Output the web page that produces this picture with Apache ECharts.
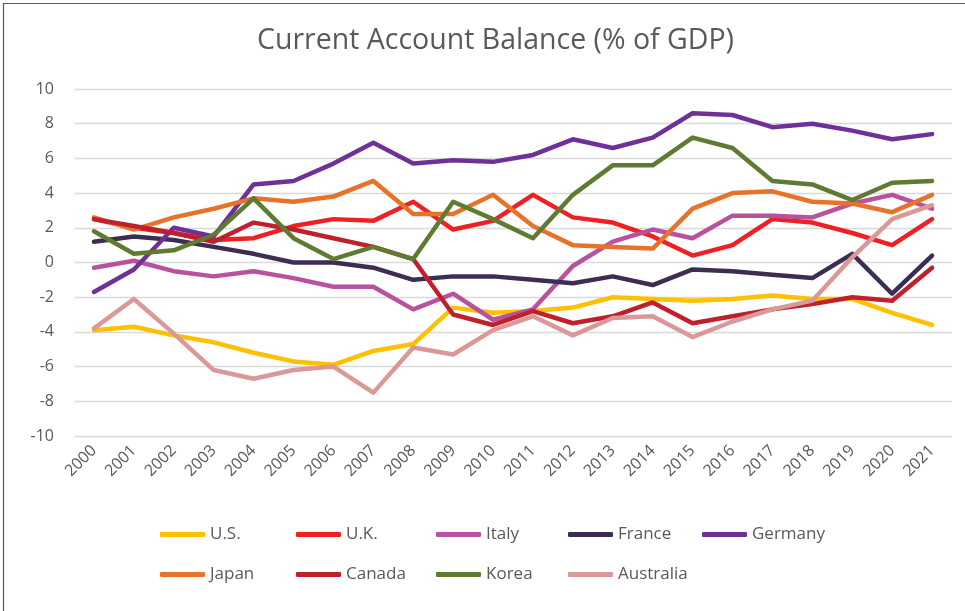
<!DOCTYPE html>
<html>
<head>
<meta charset="utf-8">
<script src="https://cdn.jsdelivr.net/npm/echarts@6/dist/echarts.min.js"></script>
<style>
html,body{margin:0;padding:0;background:#fff;}
#chart{width:965px;height:611px;}
</style>
</head>
<body>
<div id="chart"></div>
<script>
const years = ['2000','2001','2002','2003','2004','2005','2006','2007','2008','2009','2010','2011','2012','2013','2014','2015','2016','2017','2018','2019','2020','2021'];
const yTicks = [-10, -8, -6, -4, -2, 0, 2, 4, 6, 8, 10];

const us        = [-3.9, -3.7, -4.2, -4.6, -5.2, -5.7, -5.9, -5.1, -4.7, -2.6, -2.9, -2.8, -2.6, -2.0, -2.1, -2.2, -2.1, -1.9, -2.1, -2.1, -2.9, -3.6];
const uk        = [2.5, 2.0, 1.7, 1.3, 1.4, 2.1, 2.5, 2.4, 3.5, 1.9, 2.4, 3.9, 2.6, 2.3, 1.5, 0.4, 1.0, 2.5, 2.3, 1.7, 1.0, 2.5];
const italy     = [-0.3, 0.1, -0.5, -0.8, -0.5, -0.9, -1.4, -1.4, -2.7, -1.8, -3.3, -2.7, -0.2, 1.2, 1.9, 1.4, 2.7, 2.7, 2.6, 3.4, 3.9, 3.1];
const france    = [1.2, 1.5, 1.3, 0.9, 0.5, 0.0, 0.0, -0.3, -1.0, -0.8, -0.8, -1.0, -1.2, -0.8, -1.3, -0.4, -0.5, -0.7, -0.9, 0.5, -1.8, 0.4];
const germany   = [-1.7, -0.4, 2.0, 1.5, 4.5, 4.7, 5.7, 6.9, 5.7, 5.9, 5.8, 6.2, 7.1, 6.6, 7.2, 8.6, 8.5, 7.8, 8.0, 7.6, 7.1, 7.4];
const japan     = [2.6, 1.9, 2.6, 3.1, 3.7, 3.5, 3.8, 4.7, 2.8, 2.8, 3.9, 2.1, 1.0, 0.9, 0.8, 3.1, 4.0, 4.1, 3.5, 3.4, 2.9, 3.9];
const canada    = [2.5, 2.1, 1.7, 1.2, 2.3, 1.9, 1.4, 0.9, 0.2, -3.0, -3.6, -2.8, -3.5, -3.1, -2.3, -3.5, -3.1, -2.7, -2.4, -2.0, -2.2, -0.3];
const korea     = [1.8, 0.5, 0.7, 1.6, 3.7, 1.4, 0.2, 0.9, 0.2, 3.5, 2.5, 1.4, 3.9, 5.6, 5.6, 7.2, 6.6, 4.7, 4.5, 3.6, 4.6, 4.7];
const australia = [-3.8, -2.1, -4.1, -6.2, -6.7, -6.2, -6.0, -7.5, -4.9, -5.3, -3.9, -3.1, -4.2, -3.2, -3.1, -4.3, -3.4, -2.7, -2.2, 0.3, 2.5, 3.3];

const seriesNames = ['U.S.', 'U.K.', 'Italy', 'France', 'Germany', 'Japan', 'Canada', 'Korea', 'Australia'];
const seriesData = [us, uk, italy, france, germany, japan, canada, korea, australia];
const colors = ['#FFC000', '#EE2024', '#B9519E', '#3E2D52', '#6F3198', '#E7722A', '#C0202B', '#5F7A32', '#D99998'];

const FONT = '"Open Sans", "Liberation Sans", sans-serif';
const chart = echarts.init(document.getElementById('chart'), null, {renderer: 'canvas'});

// one legend component per entry, laid out in a 5-column grid like the original
const legendCols = [160, 296, 436, 568, 702];
const legendRows = [526, 566];
const legends = seriesNames.map((name, i) => ({
  data: [name],
  left: legendCols[i % 5],
  top: legendRows[Math.floor(i / 5)],
  padding: 0,
  itemWidth: 45, itemHeight: 5, itemGap: 0,
  icon: 'roundRect',
  textStyle: {color: '#595959', fontSize: 17, fontFamily: FONT}
}));

chart.setOption({
  animation: false,
  backgroundColor: '#ffffff',
  title: {
    text: 'Current Account Balance (% of GDP)',
    left: 252,
    top: 21,
    textStyle: {color: '#595959', fontSize: 28.5, fontWeight: 'normal', fontFamily: FONT}
  },
  graphic: [{
    type: 'rect',
    shape: {x: 3.5, y: 3.5, width: 1000, height: 700},
    style: {fill: 'none', stroke: '#595959', lineWidth: 1.2},
    silent: true
  }],
  legend: legends,
  grid: {left: 74, top: 89, width: 878, height: 347, containLabel: false},
  xAxis: {
    type: 'category',
    data: years,
    boundaryGap: true,
    axisLine: {show: false},
    axisTick: {show: false},
    axisLabel: {rotate: 45, color: '#595959', fontSize: 16, fontFamily: FONT, margin: 12, interval: 0}
  },
  yAxis: {
    type: 'value',
    min: yTicks[0], max: yTicks[yTicks.length - 1], interval: 2,
    axisLine: {show: false},
    axisTick: {show: false},
    axisLabel: {color: '#595959', fontSize: 16, fontFamily: FONT, margin: 20},
    splitLine: {lineStyle: {color: '#D9D9D9', width: 1.3}}
  },
  series: seriesNames.map((name, i) => ({
    name: name,
    type: 'line',
    data: seriesData[i],
    showSymbol: false,
    symbol: 'none',
    color: colors[i],
    lineStyle: {width: 4.5, color: colors[i], cap: 'round', join: 'round'}
  }))
});
</script>
</body>
</html>
